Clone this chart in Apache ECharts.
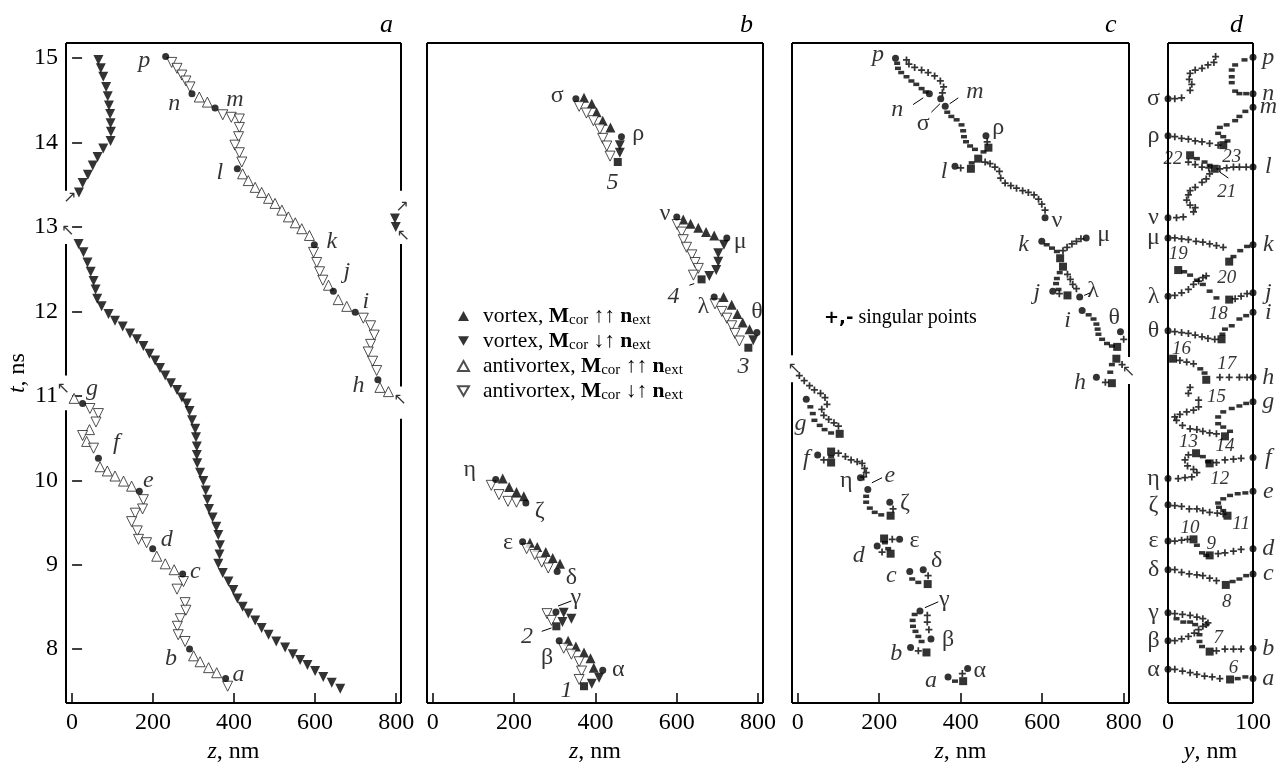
<!DOCTYPE html>
<html>
<head>
<meta charset="utf-8">
<script src="https://cdn.jsdelivr.net/npm/echarts@6/dist/echarts.min.js"></script>
<style>
  html, body { margin: 0; padding: 0; background: #fff; }
  #chart { width: 1286px; height: 769px; }
</style>
</head>
<body>
<div id="chart"></div>
<script>
// axis ranges and ticks
const tRange = [7.36, 15.18];
const tTicks = [8, 9, 10, 11, 12, 13, 14, 15];
const zTicks = [0, 200, 400, 600, 800];
const yTicks = [0, 100];
const panelNames = ['a', 'b', 'c', 'd'];

// ---- panel a : [z, t] ----
const aVortexDown = [
  [65,14.98],[71,14.88],[77,14.78],[84,14.66],[88,14.55],[91,14.44],[94,14.34],[95,14.23],[96,14.13],[95,14.02],
  [77,13.93],[63,13.83],[51,13.73],[39,13.62],[26,13.52],[17,13.41],
  [797,13.10],[799,13.00],
  [16,12.80],[28,12.70],[38,12.58],[46,12.47],[53,12.36],[58,12.26],[62,12.15],[73,12.06],[90,11.97],[106,11.89],
  [125,11.82],[143,11.74],[160,11.67],[176,11.59],[191,11.50],[205,11.42],[217,11.33],[230,11.24],[244,11.15],
  [259,11.07],[271,10.98],[283,10.91],[290,10.82],[296,10.71],[304,10.61],[306,10.51],[308,10.40],[308,10.30],
  [309,10.20],[316,10.09],[324,9.99],[330,9.88],[334,9.77],[338,9.66],[347,9.56],[356,9.45],[361,9.35],[365,9.23],
  [364,9.12],[361,9.01],[372,8.90],[386,8.80],[398,8.70],[408,8.60],[421,8.50],[435,8.42],[452,8.34],[468,8.25],
  [485,8.17],[504,8.09],[526,8.02],[545,7.94],[563,7.87],[581,7.81],[600,7.74],[620,7.67],[641,7.60],[662,7.53]
];
const aAntiUp = [
  [314,14.54],[334,14.48],[421,13.63],[435,13.55],[452,13.47],[468,13.41],[485,13.34],[501,13.28],[518,13.20],
  [534,13.12],[551,13.05],[567,12.98],[586,12.90],
  [633,12.31],[657,12.14],[678,12.06],[760,11.10],[781,11.05],
  [5,10.97],[43,10.60],[36,10.46],[69,10.16],[87,10.11],[106,10.05],[127,9.99],[147,9.93],
  [209,9.10],[230,9.01],[252,8.94],[300,7.92],[316,7.85],[337,7.78],[357,7.72]
];
const aAntiDown = [
  [246,14.95],[259,14.88],[271,14.80],[281,14.73],[291,14.66],[372,14.33],[393,14.30],[413,14.28],[413,14.18],
  [411,14.07],[402,13.97],[413,13.88],[419,13.77],[596,12.70],[604,12.58],[611,12.47],[619,12.37],
  [719,11.92],[737,11.83],[746,11.72],[737,11.61],[731,11.52],[742,11.41],[752,11.30],
  [44,10.85],[65,10.79],[59,10.69],[26,10.53],[53,10.38],[176,9.77],[174,9.66],[156,9.61],[147,9.51],[161,9.40],
  [164,9.30],[184,9.26],[275,8.80],[259,8.71],[279,8.55],[281,8.46],[267,8.36],[260,8.27],[262,8.17],[279,8.09],
  [384,7.56]
];
const aDots = [
  [231,15.02],[296,14.58],[353,14.41],[408,13.69],[598,12.79],[645,12.24],[699,11.99],[755,11.19],
  [26,10.91],[65,10.26],[166,9.87],[199,9.19],[273,8.89],[290,8.00],[379,7.65]
];
const aLabels = [
  ['p',178,14.97],['n',252,14.46],['m',402,14.51],['l',365,13.64],['k',641,12.83],['j',678,12.47],['i',725,12.12],
  ['h',707,11.12],['g',49,11.08],['f',109,10.44],['e',188,9.99],['d',234,9.30],['c',304,8.92],['b',244,7.89],['a',411,7.70],
  ['↗',-5,13.34],['↖',-10,12.95],['↗',815,13.24],['↖',818,12.90],['↖',-21,11.08],['↖',810,10.95]
];

// ---- panel b : [z, t] ----
const bVortexUp = [
  [372,14.53],[391,14.46],[403,14.36],[418,14.26],[437,14.18],
  [616,13.09],[634,13.04],[653,12.99],[672,12.94],[692,12.90],
  [715,12.17],[735,12.08],[749,11.97],[762,11.87],[779,11.79],
  [172,10.02],[188,9.92],[206,9.86],[224,9.81],
  [239,9.26],[257,9.21],[278,9.15],[295,9.08],[313,9.01],
  [333,8.10],[352,8.03],[372,7.96],[388,7.89],[396,7.78]
];
const bVortexDown = [
  [460,13.97],[460,13.88],[716,12.79],[702,12.69],[702,12.59],[697,12.49],[680,12.42],[788,11.66],
  [322,8.43],[341,8.36],[319,8.32],[409,7.66],[391,7.59]
];
const bAntiDown = [
  [360,14.43],[378,14.35],[395,14.26],[411,14.16],[418,14.05],[428,13.96],[436,13.84],
  [601,13.03],[612,12.94],[616,12.85],[624,12.76],[637,12.67],[645,12.58],[653,12.51],[641,12.43],
  [694,12.09],[711,12.00],[723,11.92],[735,11.83],[743,11.74],[754,11.65],
  [144,9.94],[163,9.83],[185,9.75],[206,9.74],[231,9.19],[251,9.12],[268,9.03],[284,8.96],
  [281,8.42],[292,8.34],[322,8.01],[341,7.94],[360,7.85],[366,7.74],[360,7.64]
];
const bDots = [
  [352,14.52],[464,14.07],[600,13.12],[723,12.87],[692,12.17],[797,11.75],[155,10.01],[229,9.73],
  [221,9.27],[306,8.92],[303,8.44],[311,8.10],[418,7.75]
];
const bSquares = [[455,13.77],[661,12.38],[776,11.57],[304,8.27],[372,7.56]];
const bLabels = [
  ['σ',306,14.55],['ρ',505,14.10],['5',442,13.53],['ν',571,13.16],['μ',756,12.83],['4',592,12.18],
  ['λ',665,12.06],['θ',797,12.00],['3',764,11.34],['η',91,10.13],['ζ',263,9.64],['ε',185,9.26],
  ['δ',341,8.85],['γ',352,8.61],['2',232,8.15],['β',281,7.90],['α',456,7.76],['1',329,7.51]
];
const bLeaders = [
  [[308,8.51],[341,8.57]], [[268,8.21],[292,8.25]], [[631,12.31],[643,12.33]]
];

// ---- panel c : [z, t] ----
const cPlus = [
  [267,14.98],[273,14.93],[287,14.89],[304,14.86],[320,14.83],[336,14.79],[350,14.73],[358,14.66],[355,14.59],
  [465,14.01],[400,13.70],
  [460,13.77],[472,13.75],[484,13.71],[495,13.66],[498,13.58],[509,13.52],[523,13.49],[537,13.46],[552,13.43],
  [566,13.41],[580,13.38],[591,13.33],[599,13.27],[607,13.20],
  [695,12.86],[684,12.83],[673,12.80],[661,12.76],[651,12.72],
  [662,12.44],[669,12.38],[675,12.32],[684,12.27],[642,12.21],
  [800,11.67],[755,11.16],[796,11.37],
  [4,11.24],[16,11.18],[29,11.12],[41,11.07],[56,11.03],[67,10.98],[72,10.90],[59,10.84],[64,10.77],[76,10.72],
  [89,10.68],[100,10.64],
  [64,10.24],[100,10.32],[117,10.28],[131,10.24],[146,10.22],[158,10.20],[164,10.14],[168,10.09],[162,10.04],
  [234,9.66],[207,9.15],[232,9.30],[320,8.87],[318,8.40],[318,8.32],[322,8.23],[296,7.98],[404,7.71]
];
const cMinus = [
  [244,14.94],[246,14.88],[254,14.83],[267,14.78],[279,14.73],[291,14.69],[304,14.64],[314,14.60],
  [367,14.36],[377,14.31],[390,14.27],[402,14.21],[406,14.14],[408,14.07],[413,14.01],[423,13.96],[435,13.92],
  [456,13.89],[427,13.76],
  [611,12.79],[624,12.75],[636,12.71],[643,12.46],[636,12.39],[634,12.33],[640,12.26],
  [714,11.96],[726,11.91],[733,11.85],[736,11.79],[738,11.73],[747,11.67],[759,11.62],[771,11.59],
  [771,11.37],[767,11.28],
  [31,10.87],[37,10.79],[41,10.71],[54,10.65],[66,10.60],[82,10.56],[82,10.28],
  [168,9.81],[168,9.74],[177,9.67],[189,9.62],[205,9.59],[214,9.26],[222,9.19],[281,8.83],[296,8.79],
  [287,8.41],[282,8.34],[283,8.27],[289,8.21],[296,8.15],[304,8.09],[386,7.62]
];
const cSquares = [
  [443,13.81],[468,13.94],[425,13.69],[644,12.63],[651,12.53],[662,12.19],[784,11.58],[782,11.44],[771,11.15],
  [103,10.55],[82,10.21],[82,10.34],[228,9.58],[212,9.31],[228,9.13],[319,8.77],[316,7.96],[406,7.62]
];
const cDots = [
  [240,15.00],[323,14.58],[351,14.52],[362,14.43],[462,14.08],[386,13.72],[607,13.11],[599,12.83],[708,12.87],
  [626,12.24],[692,12.17],[698,12.01],[792,11.76],[733,11.22],[21,10.96],[49,10.30],[154,10.03],[172,9.89],
  [226,9.74],[195,9.22],[250,9.30],[275,8.92],[308,8.94],[300,8.45],[327,8.12],[277,8.02],[369,7.67],[417,7.77]
];
const cLabels = [
  ['p',197,15.04],['n',244,14.39],['σ',308,14.22],['m',435,14.60],['ρ',492,14.18],['l',359,13.65],['ν',636,13.07],
  ['k',554,12.79],['μ',751,12.91],['j',587,12.22],['λ',725,12.24],['i',662,11.89],['θ',777,11.93],['h',693,11.16],
  ['g',7,10.67],['f',21,10.25],['η',119,9.99],['e',226,10.05],['ζ',263,9.73],['ε',287,9.28],['d',150,9.11],
  ['δ',341,9.05],['c',230,8.87],['γ',360,8.58],['β',369,8.11],['b',242,7.95],['α',447,7.74],['a',327,7.63],
  ['↖',-8,11.32],['↖',812,11.28]
];
const cLeaders = [
  [[283,14.45],[308,14.53]], [[328,14.36],[349,14.46]], [[373,14.46],[394,14.53]],
  [[703,12.19],[718,12.22]], [[182,9.97],[207,10.03]], [[312,8.49],[345,8.56]]
];

// ---- panel d : [y, t] ----
const dPlus = [
  [8,14.52],[16,14.53],[26,14.62],[28,14.69],[25,14.75],[26,14.82],[32,14.86],[40,14.88],[47,14.92],[54,14.95],[56,15.02],
  [8,14.07],[16,14.05],[24,14.04],[32,14.02],[40,14.01],[49,13.99],[59,13.97],
  [92,13.71],[84,13.71],[77,13.71],[69,13.70],[61,13.69],
  [24,13.77],[32,13.74],[40,13.71],[48,13.70],
  [49,13.63],[45,13.57],[40,13.53],[32,13.47],[26,13.43],[24,13.38],[22,13.32],[26,13.26],[32,13.23],[30,13.18],[18,13.12],[10,13.11],
  [8,12.87],[16,12.86],[24,12.85],[33,12.83],[41,12.82],[49,12.80],[57,12.78],[65,12.76],
  [8,12.19],[16,12.22],[24,12.26],[30,12.32],[36,12.36],[41,12.40],[45,12.42],
  [79,12.15],[86,12.18],[93,12.21],
  [8,11.76],[16,11.75],[24,11.74],[32,11.72],[40,11.70],[47,11.68],[55,11.67],
  [14,11.42],[22,11.40],[30,11.38],
  [61,11.22],[72,11.22],[84,11.22],[93,11.22],
  [26,11.10],[24,11.03],[36,10.95],[36,10.87],[30,10.83],[22,10.81],[14,10.78],[8,10.75],[10,10.71],[17,10.65],
  [26,10.61],[34,10.60],[41,10.58],[49,10.56],[57,10.55],
  [57,10.21],[67,10.24],[77,10.25],[86,10.26],
  [24,10.30],[20,10.24],[23,10.17],[30,10.13],[34,10.09],[28,10.04],[20,10.03],[12,10.02],
  [8,9.70],[16,9.69],[25,9.66],[34,9.66],[41,9.64],[49,9.62],[58,9.61],[65,9.60],
  [8,9.28],[16,9.29],[23,9.30],
  [59,9.13],[67,9.14],[77,9.16],[86,9.18],
  [8,8.94],[16,8.91],[25,8.89],[34,8.88],[41,8.87],[49,8.84],[57,8.81],
  [8,8.42],[17,8.41],[26,8.40],[34,8.38],[41,8.36],[45,8.29],
  [8,8.10],[16,8.12],[24,8.15],[31,8.19],[36,8.23],[41,8.27],[47,8.31],
  [57,7.98],[67,8.00],[77,8.00],[86,8.00],
  [8,7.76],[17,7.74],[26,7.72],[34,7.70],[43,7.68],[52,7.67],[61,7.65]
];
const dMinus = [
  [90,14.98],[79,14.92],[75,14.86],[75,14.78],[75,14.71],[79,14.61],[84,14.58],[92,14.58],
  [91,14.37],[84,14.31],[79,14.26],[69,14.21],[61,14.18],[59,14.11],[65,14.07],[70,14.02],
  [34,13.81],[43,13.77],[49,13.73],
  [77,12.65],[85,12.72],[93,12.77],
  [19,12.47],[26,12.43],[34,12.37],[41,12.32],[49,12.24],[57,12.16],
  [92,11.95],[84,11.91],[75,11.83],[67,11.79],[64,11.73],
  [38,11.32],[43,11.27],
  [92,10.91],[84,10.88],[75,10.85],[65,10.81],[59,10.75],[59,10.67],[65,10.63],[73,10.58],
  [41,10.28],[47,10.22],
  [91,9.85],[82,9.84],[73,9.82],[65,9.78],[59,9.73],[60,9.68],[65,9.64],
  [34,9.23],[40,9.14],[45,9.11],
  [76,8.80],[84,8.83],[92,8.87],
  [10,8.36],[18,8.32],[26,8.32],[32,8.29],
  [37,8.17],[37,8.09],[40,8.03],
  [82,7.65],[91,7.67]
];
const dSquares = [
  [65,13.97],[26,13.85],[55,13.69],[72,12.59],[12,12.49],[72,12.14],[63,11.67],[6,11.44],[45,11.19],
  [67,10.52],[33,10.32],[49,10.20],[70,9.58],[30,9.30],[49,9.11],[68,8.76],[49,7.97],[73,7.64]
];
const dLeftDots = [14.52,14.08,13.11,12.87,12.18,11.77,10.02,9.71,9.28,8.94,8.43,8.10,7.76];
const dLeftNames = ['σ','ρ','ν','μ','λ','θ','η','ζ','ε','δ','γ','β','α'];
const dRightDots = [15.01,14.58,14.42,13.71,12.79,12.22,11.99,11.22,10.93,10.27,9.87,9.19,8.89,8.01,7.65];
const dRightNames = ['p','n','m','l','k','j','i','h','g','f','e','d','c','b','a'];
const dNumbers = [
  ['22',6,13.81],['23',75,13.83],['21',69,13.41],['19',12,12.68],['20',69,12.40],['18',59,11.97],
  ['16',16,11.56],['17',69,11.38],['15',57,10.99],['13',24,10.45],['14',67,10.40],['12',61,10.01],
  ['10',26,9.44],['11',86,9.48],['9',51,9.25],['8',69,8.56],['7',59,8.13],['6',77,7.78]
];
const dLeaders = [[[61,13.65],[71,13.58]]];

// frame gaps [upper t, lower t] where the periodic boundary is crossed
const frameGaps = [
  { left: [[13.43, 12.80], [11.24, 10.83]], right: [[13.43, 12.80], [11.11, 10.73]] },
  { left: [], right: [] },
  { left: [[11.48, 11.16]], right: [[11.46, 11.14]] },
  { left: [], right: [] }
];
const xRanges = [[-15, 812], [-14, 812], [-14, 813], [0, 100]];

const FONT = '"Liberation Serif", "Times New Roman", serif';
const DOWN = 'path://M0,0L10,0L5,8.7Z';
const PLUS = 'path://M3,0H5V3H8V5H5V8H3V5H0V3H3Z';
const FILLED = { color: '#000' };
const OPEN = { color: '#fff', borderColor: '#222', borderWidth: 1 };

const chart = echarts.init(document.getElementById('chart'));

function marks(gi, name, data, symbol, size, style) {
  return {
    type: 'scatter', name, xAxisIndex: gi, yAxisIndex: gi, data,
    symbol, symbolSize: size, itemStyle: style, clip: false, silent: true, z: 3
  };
}

function segment(gi, p1, p2, width) {
  return {
    type: 'line', xAxisIndex: gi, yAxisIndex: gi, data: [p1, p2],
    symbol: 'none', showSymbol: false, clip: false, silent: true, z: 2,
    lineStyle: { color: '#000', width: width }
  };
}

function labelFmt(n) {
  if (/[↗↖]/.test(n)) return '{r|' + n + '}';
  if (/[a-z0-9]/.test(n)) return '{i|' + n + '}';
  return '{g|' + n + '}';
}

function labels(gi, list, size) {
  return {
    type: 'scatter', xAxisIndex: gi, yAxisIndex: gi, clip: false, silent: true, z: 5,
    symbolSize: 1, itemStyle: { color: 'rgba(0,0,0,0)' },
    data: list.map(([n, x, t]) => ({ name: n, value: [x, t] })),
    label: {
      show: true, position: 'inside', formatter: p => labelFmt(p.name),
      rich: {
        i: { fontFamily: FONT, fontStyle: 'italic', fontSize: size, color: '#000' },
        g: { fontFamily: FONT, fontSize: size, color: '#000' },
        r: { fontFamily: 'DejaVu Sans', fontSize: 16, color: '#000' }
      }
    }
  };
}

// frame: top, bottom and the two sides broken at the gaps
function frame(gi) {
  const [x0, x1] = xRanges[gi];
  const out = [
    segment(gi, [x0, tRange[1]], [x1, tRange[1]], 2),
    segment(gi, [x0, tRange[0]], [x1, tRange[0]], 2)
  ];
  [['left', x0], ['right', x1]].forEach(([side, x]) => {
    let hi = tRange[1];
    frameGaps[gi][side].forEach(([g1, g2]) => {
      out.push(segment(gi, [x, hi], [x, g1], 2));
      hi = g2;
    });
    out.push(segment(gi, [x, hi], [x, tRange[0]], 2));
  });
  return out;
}

const grids = [
  { left: 66, top: 43, width: 335, height: 666 },
  { left: 427, top: 43, width: 336, height: 666 },
  { left: 792, top: 43, width: 337, height: 666 },
  { left: 1168, top: 43, width: 85, height: 666 }
];

const xAxes = xRanges.map((r, i) => ({
  type: 'value', gridIndex: i, min: r[0], max: r[1],
  name: i === 3 ? '{i|y}, nm' : '{i|z}, nm',
  nameLocation: 'middle', nameGap: 36,
  nameTextStyle: {
    fontFamily: FONT, fontSize: 24, color: '#000',
    rich: { i: { fontFamily: FONT, fontStyle: 'italic', fontSize: 24, color: '#000' } }
  },
  axisLine: { show: false },
  splitLine: { show: false },
  axisTick: {
    show: i !== 3, inside: true, length: 10,
    customValues: zTicks, lineStyle: { color: '#000', width: 1.5 }
  },
  axisLabel: {
    customValues: i === 3 ? yTicks : zTicks,
    margin: 8, fontFamily: FONT, fontSize: 24, color: '#000'
  }
}));

const yAxes = [0, 1, 2, 3].map(i => ({
  type: 'value', gridIndex: i, min: tRange[0], max: tRange[1],
  show: i === 0,
  name: '{i|t}, ns', nameLocation: 'middle', nameGap: 32,
  nameTextStyle: {
    fontFamily: FONT, fontSize: 24, color: '#000',
    rich: { i: { fontFamily: FONT, fontStyle: 'italic', fontSize: 24, color: '#000' } }
  },
  axisLine: { show: false },
  splitLine: { show: false },
  axisTick: { show: true, inside: true, length: 10, customValues: tTicks, lineStyle: { color: '#000', width: 1.5 } },
  axisLabel: { customValues: tTicks, margin: 8, fontFamily: FONT, fontSize: 24, color: '#000' }
}));

const series = [];
[0, 1, 2, 3].forEach(i => series.push(...frame(i)));

// panel a
series.push(
  marks(0, 'vd', aVortexDown, DOWN, 10, FILLED),
  marks(0, 'au', aAntiUp, 'triangle', 10, OPEN),
  marks(0, 'ad', aAntiDown, DOWN, 10, OPEN),
  marks(0, 'dot', aDots, 'circle', 7, FILLED),
  labels(0, aLabels, 24)
);
// panel b
series.push(
  marks(1, 'vu', bVortexUp, 'triangle', 10, FILLED),
  marks(1, 'vd', bVortexDown, DOWN, 10, FILLED),
  marks(1, 'ad', bAntiDown, DOWN, 10, OPEN),
  marks(1, 'sq', bSquares, 'rect', 8, FILLED),
  marks(1, 'dot', bDots, 'circle', 7, FILLED),
  labels(1, bLabels, 24)
);
bLeaders.forEach(([p, q]) => series.push(segment(1, p, q, 1)));
// panel c
series.push(
  marks(2, 'plus', cPlus, PLUS, 7, FILLED),
  marks(2, 'minus', cMinus, 'rect', [6, 3.5], FILLED),
  marks(2, 'sq', cSquares, 'rect', 8, FILLED),
  marks(2, 'dot', cDots, 'circle', 7, FILLED),
  labels(2, cLabels, 24)
);
cLeaders.forEach(([p, q]) => series.push(segment(2, p, q, 1)));
// panel d
series.push(
  marks(3, 'plus', dPlus, PLUS, 7, FILLED),
  marks(3, 'minus', dMinus, 'rect', [6, 3.5], FILLED),
  marks(3, 'sq', dSquares, 'rect', 8, FILLED),
  marks(3, 'dot', dLeftDots.map(t => [0, t]).concat(dRightDots.map(t => [100, t])), 'circle', 7, FILLED),
  labels(3, dLeftNames.map((n, k) => [n, -17, dLeftDots[k]])
    .concat(dRightNames.map((n, k) => [n, 118, dRightDots[k]])), 24),
  labels(3, dNumbers, 19)
);
dLeaders.forEach(([p, q]) => series.push(segment(3, p, q, 1)));

const legendText = {
  vu: '{sp|}vortex, {b|M}{s|cor} ↑↑ {b|n}{s|ext}',
  vd: '{sp|}vortex, {b|M}{s|cor} ↓↑ {b|n}{s|ext}',
  au: '{sp|}antivortex, {b|M}{s|cor} ↑↑ {b|n}{s|ext}',
  ad: '{sp|}antivortex, {b|M}{s|cor} ↓↑ {b|n}{s|ext}'
};

chart.setOption({
  animation: false,
  backgroundColor: '#fff',
  grid: grids,
  xAxis: xAxes,
  yAxis: yAxes,
  legend: {
    left: 452, top: 299, orient: 'vertical',
    itemWidth: 11, itemHeight: 10, itemGap: 1, selectedMode: false,
    data: [
      { name: 'vu', icon: 'triangle' },
      { name: 'vd', icon: DOWN },
      { name: 'au', icon: 'triangle' },
      { name: 'ad', icon: DOWN }
    ],
    formatter: n => legendText[n],
    textStyle: {
      fontFamily: FONT, fontSize: 21.5, color: '#000', lineHeight: 24,
      rich: {
        sp: { width: 9 },
        b: { fontFamily: FONT, fontSize: 21.5, fontWeight: 'bold', color: '#000', lineHeight: 24 },
        s: { fontFamily: FONT, fontSize: 15, color: '#000', lineHeight: 8, verticalAlign: 'bottom' }
      }
    }
  },
  graphic: panelNames.map((n, i) => ({
    type: 'text', left: [380, 740, 1105, 1230][i], top: 12,
    style: { text: n, font: 'italic 26px ' + FONT, fill: '#000' }
  })).concat([{
    type: 'text', left: 824, top: 308,
    style: {
      text: '{b|+,-} singular points',
      font: '20px ' + FONT, fill: '#000',
      rich: { b: { fontFamily: 'DejaVu Sans', fontWeight: 'bold', fontSize: 18, fill: '#000' } }
    }
  }]),
  series
});
</script>
</body>
</html>
